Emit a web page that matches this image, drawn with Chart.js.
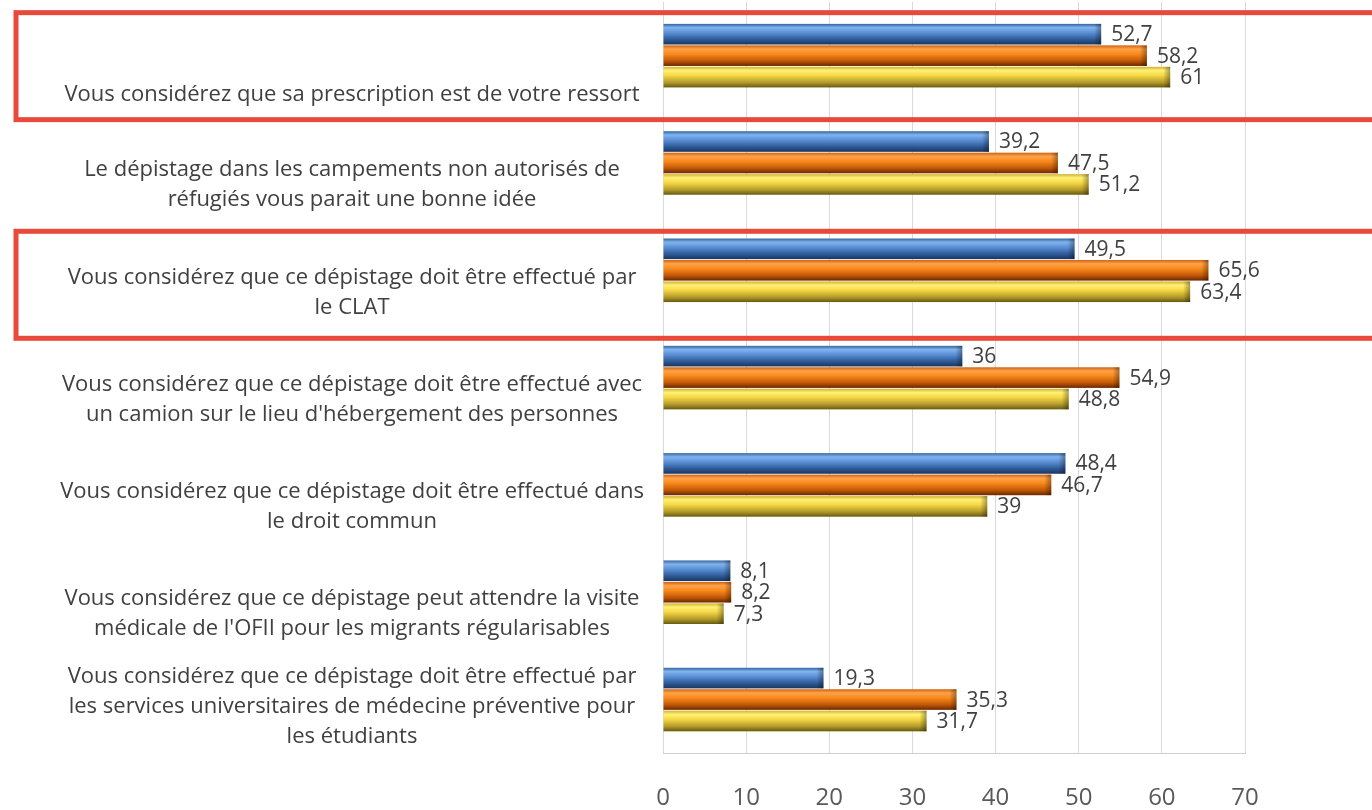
<!DOCTYPE html>
<html lang="fr">
<head>
<meta charset="utf-8">
<title>Dépistage</title>
<script src="https://cdn.jsdelivr.net/npm/chart.js@4.4.1/dist/chart.umd.min.js"></script>
<style>
  html, body { margin: 0; padding: 0; background: #fff; }
  #wrap { width: 1372px; height: 810px; position: relative; }
</style>
</head>
<body>
<div id="wrap"><canvas id="grafico"></canvas></div>
<script>
// données
const categories = [
  ['Vous considérez que sa prescription est de votre ressort'],
  ['Le dépistage dans les campements non autorisés de', 'réfugiés vous parait une bonne idée'],
  ['Vous considérez que ce dépistage doit être effectué par', 'le CLAT'],
  ['Vous considérez que ce dépistage doit être effectué avec', "un camion sur le lieu d'hébergement des personnes"],
  ['Vous considérez que ce dépistage doit être effectué dans', 'le droit commun'],
  ['Vous considérez que ce dépistage peut attendre la visite', "médicale de l'OFII pour les migrants régularisables"],
  ['Vous considérez que ce dépistage doit être effectué par', 'les services universitaires de médecine préventive pour', 'les étudiants']
];
const serieBleue = [52.7, 39.2, 49.5, 36, 48.4, 8.1, 19.3];
const serieOrange = [58.2, 47.5, 65.6, 54.9, 46.7, 8.2, 35.3];
const serieJaune = [61, 51.2, 63.4, 48.8, 39, 7.3, 31.7];
const ticksX = [0, 10, 20, 30, 40, 50, 60, 70];
const categoriesEncadrees = [0, 2];

// dégradés "3D" pour chaque série
const degrades = [
  ['#35659f', '#80b4ee', '#5c90d6', '#2f5b98', '#1a3560'],
  ['#cf6310', '#ffa24a', '#f88a1c', '#c25808', '#6a2800'],
  ['#d2b22e', '#fff176', '#f5d744', '#b59c2c', '#675a0e']
];
const arrets = [0, 0.18, 0.42, 0.75, 1];

const TEXTE = '#404040';
const POLICE = '"Open Sans", "Noto Sans", sans-serif';

const pluginBarres = {
  id: 'barres3d',
  afterDatasetsDraw(chart) {
    const ctx = chart.ctx;
    chart.data.datasets.forEach((ds, di) => {
      const meta = chart.getDatasetMeta(di);
      meta.data.forEach((bar, i) => {
        const { x, y, base, height } = bar.getProps(['x', 'y', 'base', 'height'], true);
        const haut = y - height / 2;
        const g = ctx.createLinearGradient(0, haut, 0, haut + height);
        degrades[di].forEach((c, k) => g.addColorStop(arrets[k], c));
        ctx.save();
        ctx.fillStyle = g;
        ctx.fillRect(base, haut, x - base, height);
        // bout du cylindre
        const gb = ctx.createLinearGradient(x - 7, 0, x, 0);
        gb.addColorStop(0, 'rgba(0,0,0,0)');
        gb.addColorStop(1, 'rgba(0,0,0,0.35)');
        ctx.fillStyle = gb;
        ctx.fillRect(x - 7, haut, 7, height);
        // étiquette
        ctx.fillStyle = TEXTE;
        ctx.font = '21px ' + POLICE;
        ctx.textAlign = 'left';
        ctx.textBaseline = 'middle';
        ctx.fillText(String(ds.data[i]).replace('.', ','), x + 10, y + 1);
        ctx.restore();
      });
    });
  },
  afterDraw(chart) {
    const ctx = chart.ctx;
    const yScale = chart.scales.y;
    ctx.save();
    // libellés des catégories, alignés par le bas
    ctx.fillStyle = TEXTE;
    ctx.font = '22px ' + POLICE;
    ctx.textAlign = 'center';
    ctx.textBaseline = 'middle';
    categories.forEach((lignes, i) => {
      const yc = yScale.getPixelForValue(i);
      const n = lignes.length;
      const decal = n === 1 ? 39 : 37;
      lignes.forEach((l, k) => {
        ctx.fillText(l, 352, yc + decal - (n - 1 - k) * 30);
      });
    });
    // cadres rouges
    ctx.strokeStyle = '#e8493a';
    ctx.lineWidth = 5;
    categoriesEncadrees.forEach(i => {
      const yc = yScale.getPixelForValue(i);
      ctx.strokeRect(16, yc - 43 + i * 2, 1400, 107);
    });
    ctx.restore();
  }
};

new Chart(document.getElementById('grafico'), {
  type: 'bar',
  data: {
    labels: categories,
    datasets: [
      { label: 'Série 1', data: serieBleue, backgroundColor: 'rgba(0,0,0,0)' },
      { label: 'Série 2', data: serieOrange, backgroundColor: 'rgba(0,0,0,0)' },
      { label: 'Série 3', data: serieJaune, backgroundColor: 'rgba(0,0,0,0)' }
    ]
  },
  options: {
    indexAxis: 'y',
    responsive: true,
    maintainAspectRatio: false,
    animation: false,
    layout: { padding: { left: 655, right: 127, top: 2, bottom: -34 } },
    datasets: { bar: { barPercentage: 0.96, categoryPercentage: 0.6 } },
    plugins: { legend: { display: false }, tooltip: { enabled: false } },
    scales: {
      x: {
        min: 0,
        max: 70,
        afterBuildTicks: axis => { axis.ticks = ticksX.map(v => ({ value: v })); },
        grid: { color: '#d9d9d9', drawTicks: false },
        border: { color: '#cfcfcf' },
        ticks: { color: '#595959', font: { size: 24, family: POLICE }, padding: 31 }
      },
      y: {
        ticks: { display: false },
        grid: { display: false },
        border: { display: false }
      }
    }
  },
  plugins: [pluginBarres]
});
</script>
</body>
</html>
